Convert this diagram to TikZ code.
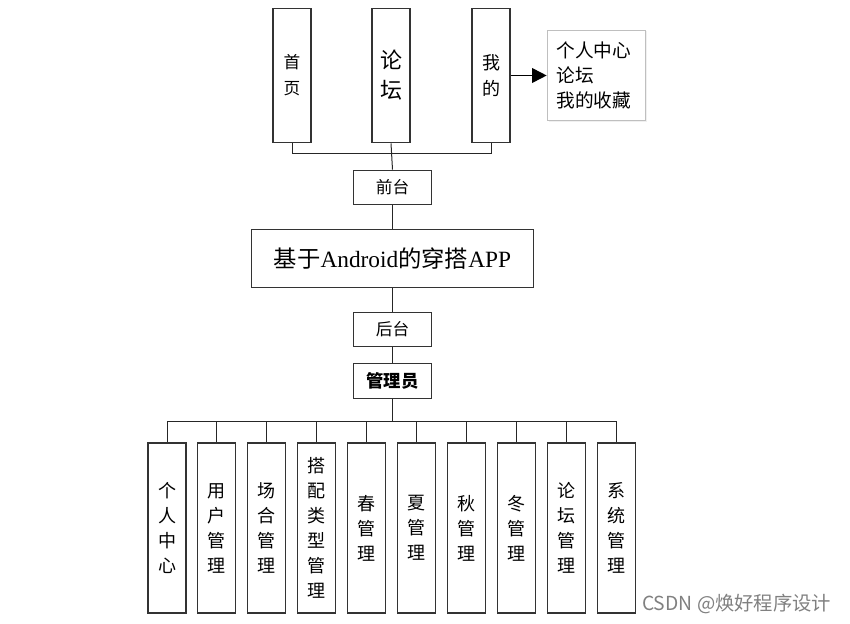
\documentclass[tikz,border=0pt]{standalone}
\usepackage{fontspec}
\setmainfont{Noto Sans CJK SC}
\newfontfamily\titlelatin{Liberation Serif}
\usetikzlibrary{arrows.meta,positioning,shadows}

\begin{document}
\begin{tikzpicture}[
    x=0.75pt, y=-0.75pt,
    topbox/.style={draw=black!80, line width=0.8pt, minimum width=28.5pt, minimum height=101pt, inner sep=0pt, align=center, font=\fontsize{12.5}{19.5}\selectfont},
    midbox/.style={draw=black!80, line width=0.8pt, minimum width=59pt, minimum height=26pt, inner sep=0pt, align=center, font=\fontsize{12.5}{14}\selectfont},
    titlebox/.style={draw=black!80, line width=0.8pt, minimum width=212pt, minimum height=43pt, inner sep=0pt, align=center, font=\fontsize{17.5}{20}\selectfont},
    subbox/.style={draw=black!80, line width=0.8pt, minimum width=28.5pt, minimum height=127.5pt, inner sep=0pt, align=center, font=\fontsize{13.5}{18.75}\selectfont},
    listbox/.style={draw=black!25, line width=0.7pt, fill=white, drop shadow={opacity=0.12, shadow xshift=1pt, shadow yshift=-1pt}, text width=60pt, inner xsep=7pt, minimum height=68pt, align=left, font=\fontsize{14}{18.75}\selectfont},
    conn/.style={draw=black!85, line width=0.75pt},
    arr/.style={-{Triangle[length=11pt, width=11pt]}, line width=1.3pt},
]
    \useasboundingbox (0,0) rectangle (850,624);

    % Front end
    \node [topbox] (home) at (292,75.5) {首\\页};
    \node [topbox, font=\fontsize{16.5}{22.5}\selectfont] (forum) at (391,75.5) {论\\坛};
    \node [topbox, font=\fontsize{13.5}{19.5}\selectfont] (mine) at (491,75.5) {我\\的};
    \node [listbox] (minelist) at (596.5,75.5) {个人中心\\论坛\\我的收藏};

    % Middle column
    \node [midbox] (front) at (392.5,187.5) {前台};
    \node [titlebox] (app) at (392.5,258.5) {基于{\titlelatin Android}的穿搭{\titlelatin APP}};
    \node [midbox] (back) at (392.5,329.5) {后台};
    \node [midbox, font=\fontsize{13}{14}\selectfont\bfseries] (admin) at (392.5,381) {管理员};

    % Top connectors
    \draw [conn] (home.south) -- ++(0,10) -| (mine.south);
    \draw [conn] (forum.south) -- (front.north);
    \draw [arr] (mine.east) -- (minelist.west);

    % Middle connectors
    \draw [conn] (front) -- (app);
    \draw [conn] (app) -- (back);
    \draw [conn] (back) -- (admin);

    % Back end modules
    \coordinate (bus) at (392.5,421);
    \draw [conn, line width=1.2pt] (admin.south) -- (bus);
    \foreach \name/\txt [count=\i from 0] in {center/{个\\人\\中\\心}, user/{用\\户\\管\\理}, occasion/{场\\合\\管\\理}, matchtype/{搭\\配\\类\\型\\管\\理}, spring/{春\\管\\理}, summer/{夏\\管\\理}, autumn/{秋\\管\\理}, winter/{冬\\管\\理}, forummgr/{论\\坛\\管\\理}, system/{系\\统\\管\\理}} {
        \node [subbox] (\name) at ({167+49.9*\i},528) {\txt};
        \draw [conn] (bus) -| (\name.north);
    }

    % Watermark
    \node [anchor=east, text=black!50, font=\fontsize{14.5}{16}\selectfont] (mark) at (836,604) {CSDN @焕好程序设计};
\end{tikzpicture}
\end{document}
